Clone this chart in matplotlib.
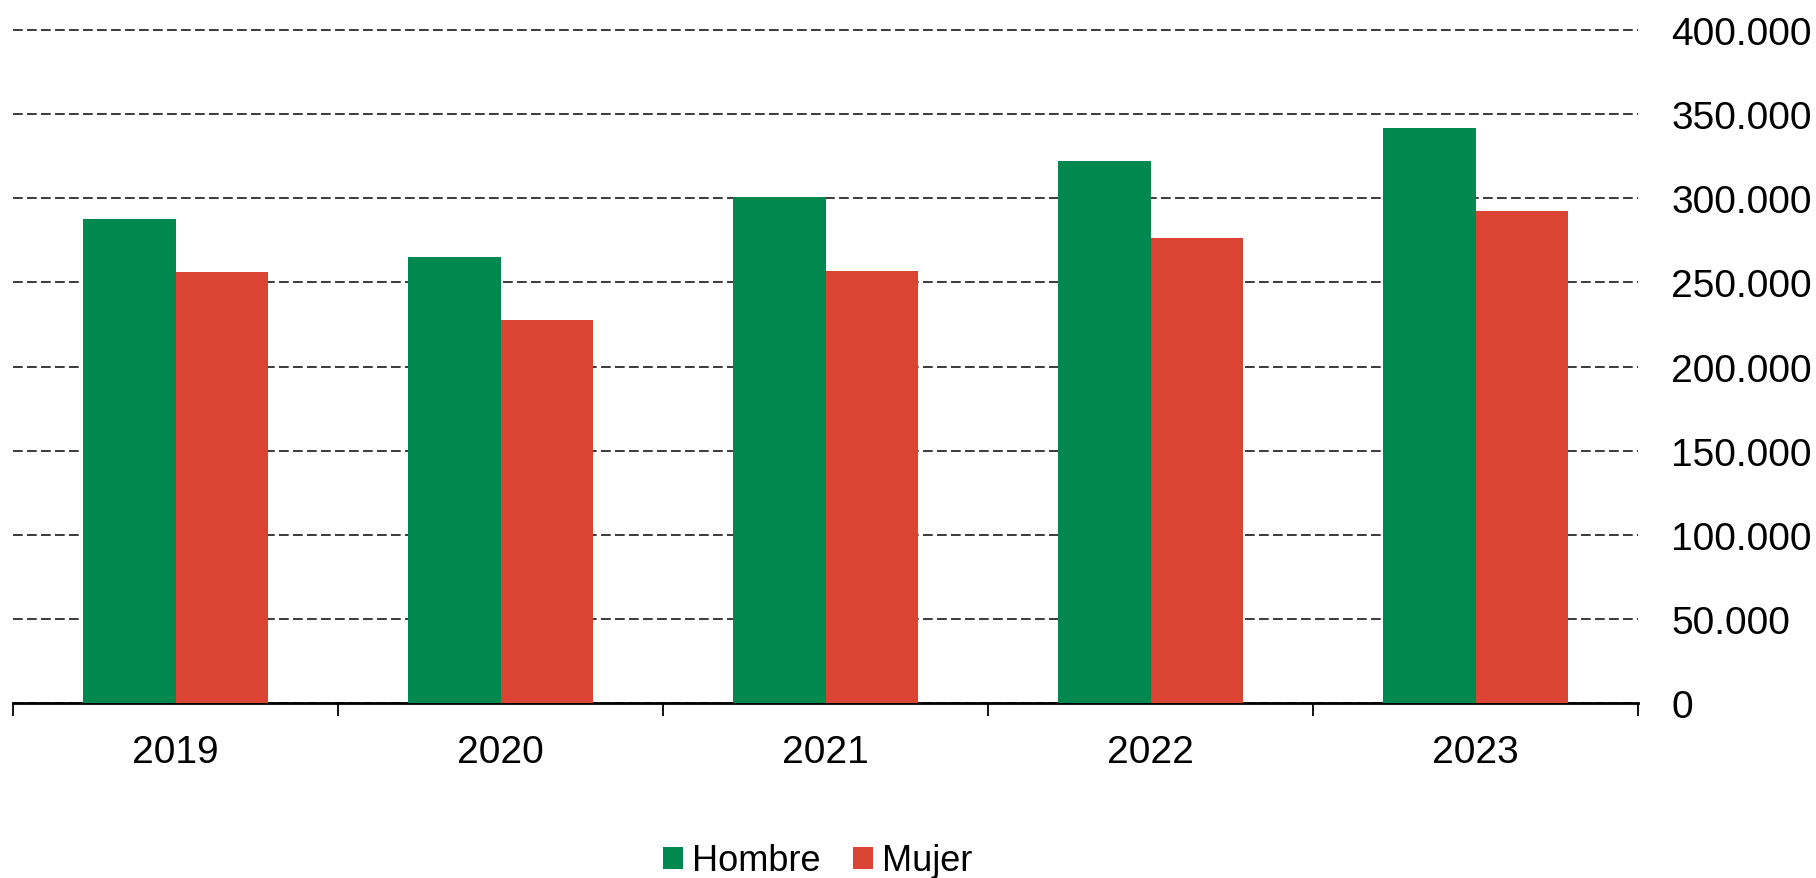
import numpy as np
import matplotlib.pyplot as plt
from matplotlib.ticker import FuncFormatter

plt.rcParams['font.family'] = ['Liberation Sans', 'DejaVu Sans']

years = ['2019', '2020', '2021', '2022', '2023']
hombre = [287500, 265100, 300900, 322000, 341800]
mujer = [256200, 227800, 256800, 276200, 292400]

verde = '#00884e'
rojo = '#db4432'

fig = plt.figure(figsize=(18.16, 8.79), dpi=100)
ax = fig.add_axes([13/1816, 1 - 704/879, 1625/1816, 673/879])

x = np.arange(len(years))
w = 0.286
ax.bar(x - w/2, hombre, width=w, color=verde, label='Hombre', zorder=3)
ax.bar(x + w/2, mujer, width=w, color=rojo, label='Mujer', zorder=3)

ax.set_xlim(-0.5, len(years) - 0.5)
ax.set_ylim(0, 400000)
ax.set_yticks(np.arange(0, 400001, 50000))
ax.yaxis.set_major_formatter(FuncFormatter(lambda v, p: f'{int(v):,}'.replace(',', '.')))
ax.yaxis.tick_right()
ax.tick_params(axis='y', length=0, pad=24, labelsize=28)
for lbl in ax.get_yticklabels():
    lbl.set_horizontalalignment('left')
ax.grid(axis='y', color='#3a3a3a', linestyle=(0, (5, 2.2)), linewidth=1.4, zorder=0)
for gl in ax.get_ygridlines():
    gl.set_clip_on(False)

# years centred between boundary ticks
ax.set_xticks(x)
ax.set_xticklabels(years)
ax.tick_params(axis='x', length=0, labelsize=28, pad=22)
ax.set_xticks(np.arange(-0.5, len(years)), minor=True)
ax.tick_params(axis='x', which='minor', length=9.5, width=1.3, color='black')

for s in ['top', 'left', 'right']:
    ax.spines[s].set_visible(False)
ax.spines['bottom'].set_linewidth(2)

fig.legend(loc='center', bbox_to_anchor=(818/1816, 1 - 862/879), ncol=2, frameon=False,
           fontsize=26, handlelength=0.55, handleheight=0.55, handletextpad=0.25,
           columnspacing=0.9)

fig.savefig('out.png', dpi=100)
